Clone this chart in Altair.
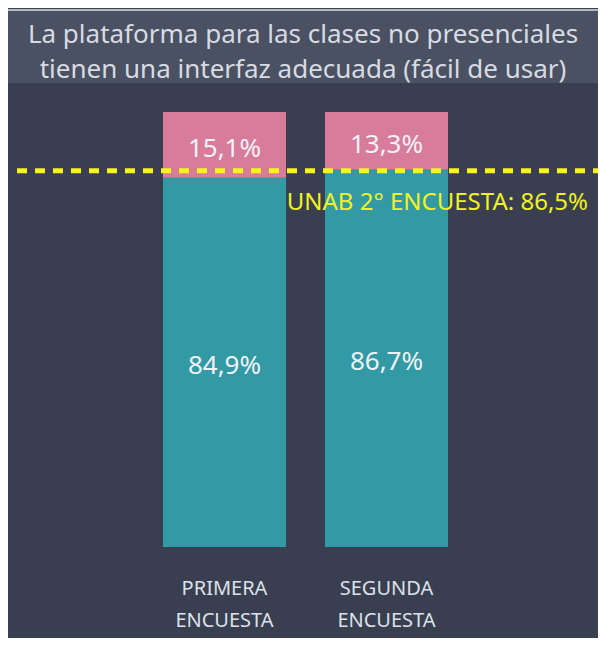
import altair as alt
import pandas as pd

# ---- data ----
surveys = ["PRIMERA ENCUESTA", "SEGUNDA ENCUESTA"]
agree = [84.9, 86.7]
disagree = [15.1, 13.3]
benchmark_value = [86.5]
benchmark_label = ["UNAB 2° ENCUESTA: 86,5%"]
title_lines = ["La plataforma para las clases no presenciales",
               "tienen una interfaz adecuada (fácil de usar)"]


def fmt(v):
    return f"{v:.1f}".replace(".", ",") + "%"


rows = []
for s, a, d in zip(surveys, agree, disagree):
    rows.append(dict(survey=s, seg="Sí", start=0.0, end=a, mid=a / 2, label=fmt(a)))
    rows.append(dict(survey=s, seg="No", start=a, end=a + d, mid=a + d / 2, label=fmt(d)))
df = pd.DataFrame(rows)
cats = pd.DataFrame({"survey": surveys})
bench = pd.DataFrame({"v": benchmark_value, "label": benchmark_label})
one = pd.DataFrame({"a": [0]})
title_df = pd.DataFrame({"t": ["\n".join(title_lines)]})

W, H = 590, 630
FONT = "Noto Sans"
BG = "#393f51"

yscale = alt.Scale(domain=[-20.92, 123.91], nice=False, zero=False)
xscale = alt.Scale(domain=surveys, range=[155, 440], paddingInner=0.2407, paddingOuter=0)

X = alt.X("survey:N", scale=xscale, axis=None)

title_bg = alt.Chart(one).mark_rect(color="#4a5163").encode(
    x=alt.value(0), x2=alt.value(W), y=alt.value(2), y2=alt.value(75))
title_border = alt.Chart(one).mark_rule(color="#b4b8c1", strokeWidth=2).encode(
    x=alt.value(0), x2=alt.value(W), y=alt.value(2))
title_text = alt.Chart(title_df).mark_text(
    font=FONT, fontSize=26, color="#d8dbe1", lineBreak="\n", lineHeight=35,
    align="center", baseline="middle").encode(
    x=alt.value(295), y=alt.value(26.5), text="t:N")

bars = alt.Chart(df).mark_bar().encode(
    x=X,
    y=alt.Y("start:Q", scale=yscale, axis=None),
    y2="end:Q",
    color=alt.Color("seg:N", scale=alt.Scale(domain=["Sí", "No"], range=["#329aa4", "#d87c9c"]), legend=None),
)

bar_labels = alt.Chart(df).mark_text(
    font=FONT, fontSize=26, color="#f0f2f6", baseline="middle", align="center", dy=4).encode(
    x=X, y=alt.Y("mid:Q", scale=yscale), text="label:N")

x_labels = alt.Chart(cats).mark_text(
    font=FONT, fontSize=20, color="#dde1e8", lineBreak=" ", lineHeight=32,
    align="center", baseline="middle").encode(
    x=X, y=alt.value(580.5), text="survey:N")

rule = alt.Chart(bench).mark_rule(color="#f5f51a", strokeWidth=5, strokeDash=[10, 8]).encode(
    y=alt.Y("v:Q", scale=yscale), x=alt.value(9), x2=alt.value(W))

rule_label = alt.Chart(bench).mark_text(
    font=FONT, fontSize=24, color="#f2f21e", align="right", baseline="middle", dy=32).encode(
    x=alt.value(580), y=alt.Y("v:Q", scale=yscale), text="label:N")

chart = alt.layer(title_bg, title_border, title_text, bars, bar_labels, x_labels, rule, rule_label).properties(
    width=W, height=H, padding=0, autosize=alt.AutoSizeParams(type="none"), background=BG
).configure_view(stroke=None)

chart.save("out.html", embed_options={"renderer": "svg", "actions": False})
